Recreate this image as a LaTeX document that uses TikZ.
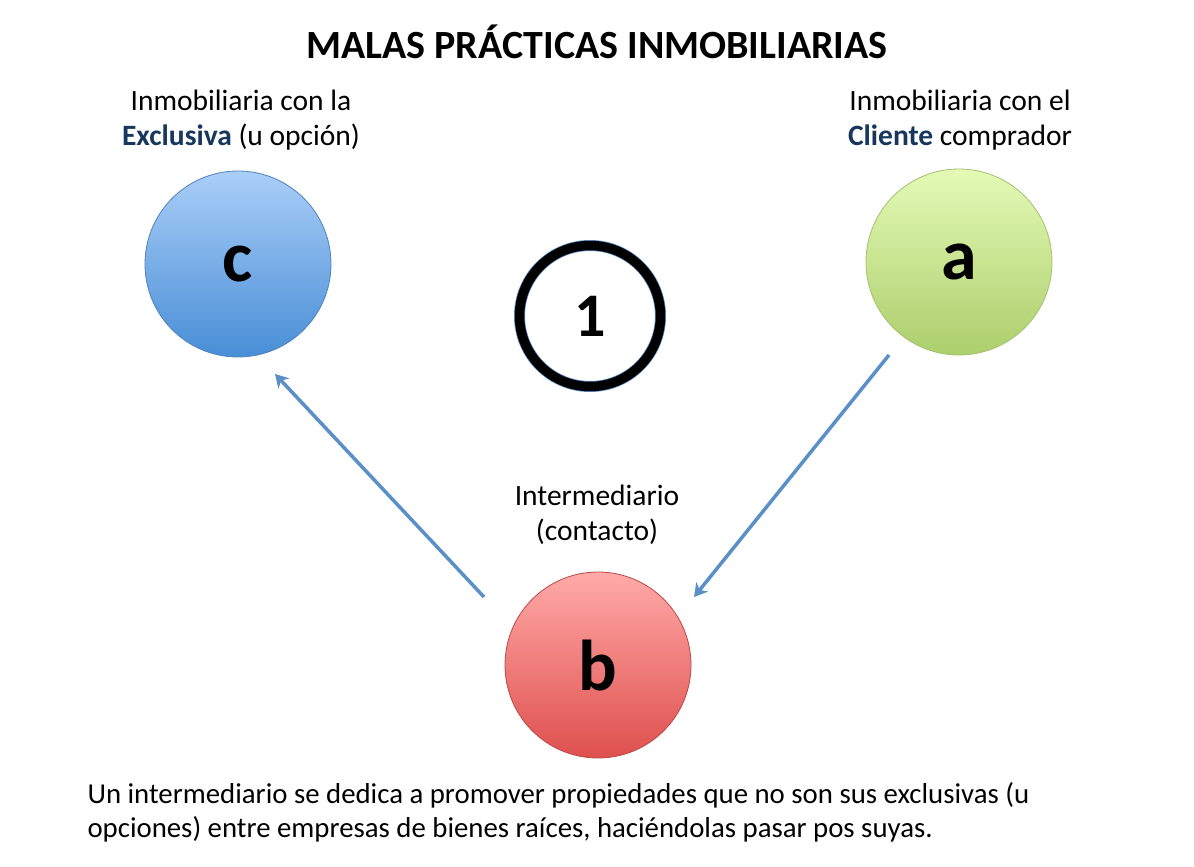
\documentclass[tikz,border=0pt]{standalone}
\usepackage{fontspec}
\setmainfont{Carlito}
\usetikzlibrary{arrows.meta}
\definecolor{arrowblue}{RGB}{91,143,199}
\definecolor{darkblue}{RGB}{23,55,94}
\definecolor{cTop}{RGB}{170,206,248}
\definecolor{cBot}{RGB}{72,142,214}
\definecolor{cLine}{RGB}{80,130,190}
\definecolor{aTop}{RGB}{228,250,182}
\definecolor{aBot}{RGB}{172,206,108}
\definecolor{aLine}{RGB}{160,195,110}
\definecolor{bTop}{RGB}{255,170,168}
\definecolor{bBot}{RGB}{222,80,78}
\definecolor{bLine}{RGB}{190,70,70}
\tikzset{
  ball/.style={circle, minimum size=186pt, inner sep=0pt, line width=0.8pt, font=\fontsize{72}{72}\selectfont\bfseries},
  lbl/.style={font=\fontsize{29.5}{35}\selectfont, align=center},
  conn/.style={draw=arrowblue, line width=3.5pt, -{Stealth[length=13pt,width=15pt,inset=4pt]}},
}
\begin{document}
\begin{tikzpicture}[x=1pt,y=-1pt]
\useasboundingbox (0,0) rectangle (1194,867);
\node[font=\fontsize{40}{44}\selectfont\bfseries] (title) at (597,42) {MALAS PRÁCTICAS INMOBILIARIAS};
\node[lbl] (lc) at (241,120) {Inmobiliaria con la\\\textcolor{darkblue}{\textbf{Exclusiva}} (u opción)};
\node[lbl] (la) at (960,120) {Inmobiliaria con el\\\textcolor{darkblue}{\textbf{Cliente}} comprador};
\node[lbl] (lb) at (597,515) {Intermediario\\(contacto)};
\node[ball, draw=cLine, top color=cTop, bottom color=cBot] (c) at (238,264) {c};
\node[ball, draw=aLine, top color=aTop, bottom color=aBot] (a) at (959,262) {a};
\node[ball, draw=bLine, top color=bTop, bottom color=bBot] (b) at (598,665) {b};
\node[circle, minimum size=141pt, inner sep=0pt, draw=arrowblue, line width=11pt] (onebg) at (590,316) {};
\node[circle, minimum size=141pt, inner sep=0pt, draw=black, line width=9.5pt, font=\fontsize{62}{62}\selectfont\bfseries] (one) at (590,316) {1};
\coordinate (bs) at (484,597);
\coordinate (ce) at (275,374);
\coordinate (as) at (889,355);
\coordinate (be) at (694,597);
\draw[conn] (bs) -- (ce);
\draw[conn] (as) -- (be);
\node[align=left, anchor=north west, font=\fontsize{28.8}{34}\selectfont] (txt) at (84,779) {Un intermediario se dedica a promover propiedades que no son sus exclusivas (u\\opciones) entre empresas de bienes raíces, haciéndolas pasar pos suyas.};
\end{tikzpicture}
\end{document}
